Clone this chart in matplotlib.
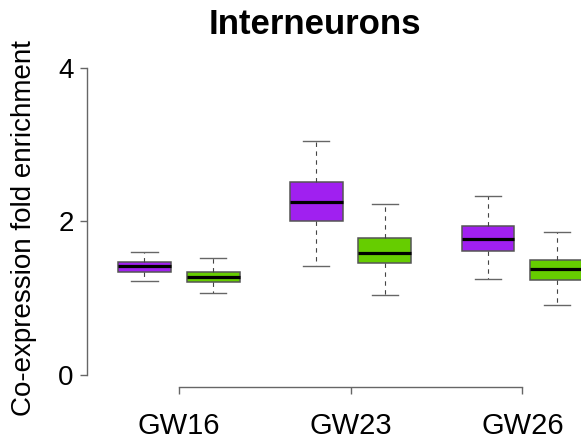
import matplotlib
matplotlib.use("Agg")
import matplotlib.pyplot as plt

plt.rcParams['font.family'] = ['Liberation Sans', 'DejaVu Sans']

# Stages and the two box series per stage (five-number summaries)
stages = ["GW16", "GW23", "GW26"]
series_colors = ["#A020F0", "#66CD00"]

whisker_low = [1.224, 1.063, 1.419, 1.033, 1.246, 0.907]
quart_low = [1.341, 1.211, 2.001, 1.454, 1.615, 1.237]
medians = [1.415, 1.280, 2.253, 1.580, 1.771, 1.376]
quart_high = [1.467, 1.341, 2.509, 1.780, 1.944, 1.497]
whisker_high = [1.605, 1.519, 3.051, 2.231, 2.327, 1.866]

positions = [1, 2, 3.5, 4.5, 6, 7]
stage_centers = [1.5, 4.0, 6.5]
y_ticks = [0, 2, 4]

W, H = 581, 443
fig = plt.figure(figsize=(W / 100, H / 100), dpi=100)
left_px, right_px, top_px, bottom_px = 87, 581, 55.5, 387
ax = fig.add_axes([left_px / W, 1 - bottom_px / H,
                   (right_px - left_px) / W, (bottom_px - top_px) / H])

stats = []
for i in range(len(medians)):
    stats.append(dict(whislo=whisker_low[i], q1=quart_low[i], med=medians[i],
                      q3=quart_high[i], whishi=whisker_high[i], fliers=[]))

edge = "#555555"
bp = ax.bxp(stats, positions=positions, widths=0.77, capwidths=0.38,
            patch_artist=True, showfliers=False,
            boxprops=dict(edgecolor=edge, linewidth=1.1),
            medianprops=dict(color="black", linewidth=2.3, solid_capstyle="butt"),
            whiskerprops=dict(color="#444444", linewidth=0.8, linestyle=(0, (4, 4))),
            capprops=dict(color="#666666", linewidth=1.0))
for i, patch in enumerate(bp["boxes"]):
    patch.set_facecolor(series_colors[i % 2])

ax.set_xlim(0.163, 7.354)
ax.set_ylim(-0.16, 4.16)

for s in ["top", "right"]:
    ax.spines[s].set_visible(False)
ax.spines["left"].set_bounds(0, 4)
ax.spines["bottom"].set_bounds(stage_centers[0], stage_centers[-1])
for s in ["left", "bottom"]:
    ax.spines[s].set_color("#666666")
    ax.spines[s].set_linewidth(1.0)

ax.set_yticks(y_ticks)
ax.set_yticklabels([str(t) for t in y_ticks])
ax.set_xticks(stage_centers)
ax.set_xticklabels(stages)
ax.tick_params(axis="both", length=5, width=1.0, color="#666666")
ax.tick_params(axis="y", pad=4.5, labelsize=20)
ax.tick_params(axis="x", pad=13, labelsize=21)

fig.text(24 / W, 1 - 228 / H, "Co-expression fold enrichment", rotation=90,
         ha="center", va="center", fontsize=20)
fig.text(315 / W, 1 - 25 / H, "Interneurons", ha="center", va="center",
         fontsize=25, fontweight="bold")

fig.savefig("out.png", dpi=100)
